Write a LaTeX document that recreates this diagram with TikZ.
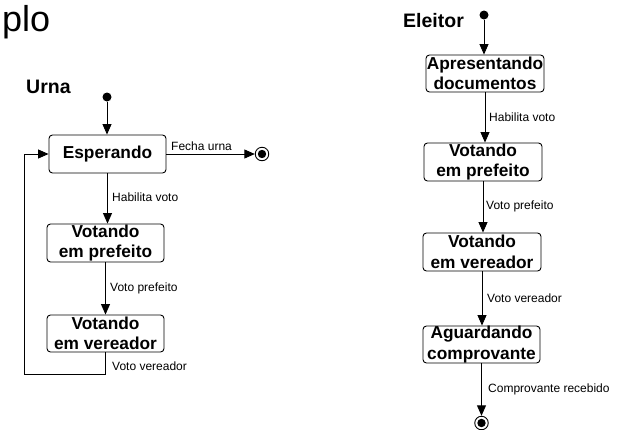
\documentclass[tikz,border=0pt]{standalone}
\usepackage{fontspec}
\setmainfont{Liberation Sans}
\usetikzlibrary{arrows.meta}
\begin{document}
\begin{tikzpicture}[x=1pt,y=-1pt,
  state/.style={draw, line width=0.9pt, rounded corners=3.5pt, align=center,
    inner sep=0pt, font=\fontsize{17.3}{20.5}\selectfont\bfseries},
  arr/.style={line width=0.9pt, -{Triangle[length=10.5pt,width=9pt]}},
  lbl/.style={anchor=base west, inner sep=0pt, font=\fontsize{12}{14}\selectfont},
  ttl/.style={anchor=base west, inner sep=0pt, font=\fontsize{19.5}{22}\selectfont\bfseries},
  startdot/.style={circle, fill, inner sep=0pt, minimum size=9pt},
  enddot/.style={circle, draw, line width=0.9pt, fill=white, inner sep=0pt, minimum size=13.5pt,
    path picture={\fill[black] (path picture bounding box.center) circle (4.2pt);}}]
\useasboundingbox (0,0) rectangle (624,429);

% heading fragment
\node[anchor=base west, inner sep=0pt, font=\fontsize{36}{40}\selectfont] (plo) at (2,31) {plo};

% ---------- Urna ----------
\node[ttl] (urna) at (26,93) {Urna};
\node[startdot] (ui) at (107,97) {};
\node[state, minimum width=117pt, minimum height=38pt] (esp) at (107.5,154) {Esperando};
\node[state, minimum width=117pt, minimum height=38pt] (upf) at (105.5,243) {Votando\\em prefeito};
\node[state, minimum width=117pt, minimum height=37pt] (uvr) at (105.5,333.5) {Votando\\em vereador};
\node[enddot] (uf) at (262,154) {};
\coordinate (lc) at (24,374);

\draw[arr] (ui) -- (ui |- esp.north);
\draw[arr] (esp.east) -- (uf.west);
\draw[arr] (esp.south) -- (esp.south |- upf.north);
\draw[arr] (upf.south) -- (upf.south |- uvr.north);
\draw[arr] (uvr.south) |- (lc) |- (esp.west);

\node[lbl] (lfu) at (171,150) {Fecha urna};
\node[lbl] (lhv) at (112,201) {Habilita voto};
\node[lbl] (lvp) at (110,291) {Voto prefeito};
\node[lbl] (lvv) at (112,370) {Voto vereador};

% ---------- Eleitor ----------
\node[ttl] (eleitor) at (403,27) {Eleitor};
\node[startdot] (ei) at (484,15) {};
\node[state, minimum width=118pt, minimum height=37pt] (apr) at (485,73.5) {Apresentando\\documentos};
\node[state, minimum width=118pt, minimum height=38pt] (epf) at (483,162) {Votando\\em prefeito};
\node[state, minimum width=118pt, minimum height=38pt] (evr) at (482,252) {Votando\\em vereador};
\node[state, minimum width=117pt, minimum height=37pt] (agu) at (481.5,344.5) {Aguardando\\comprovante};
\node[enddot] (ef) at (481.5,423) {};

\draw[arr] (ei) -- (ei |- apr.north);
\draw[arr] (apr.south) -- (apr.south |- epf.north);
\draw[arr] (epf.south) -- (epf.south |- evr.north);
\draw[arr] (evr.south) -- (evr.south |- agu.north);
\draw[arr] (agu.south) -- (ef.north);

\node[lbl] (ehv) at (489,121) {Habilita voto};
\node[lbl] (evp) at (486,209) {Voto prefeito};
\node[lbl] (evv) at (487,302) {Voto vereador};
\node[lbl] (ecr) at (488,392) {Comprovante recebido};
\end{tikzpicture}
\end{document}
